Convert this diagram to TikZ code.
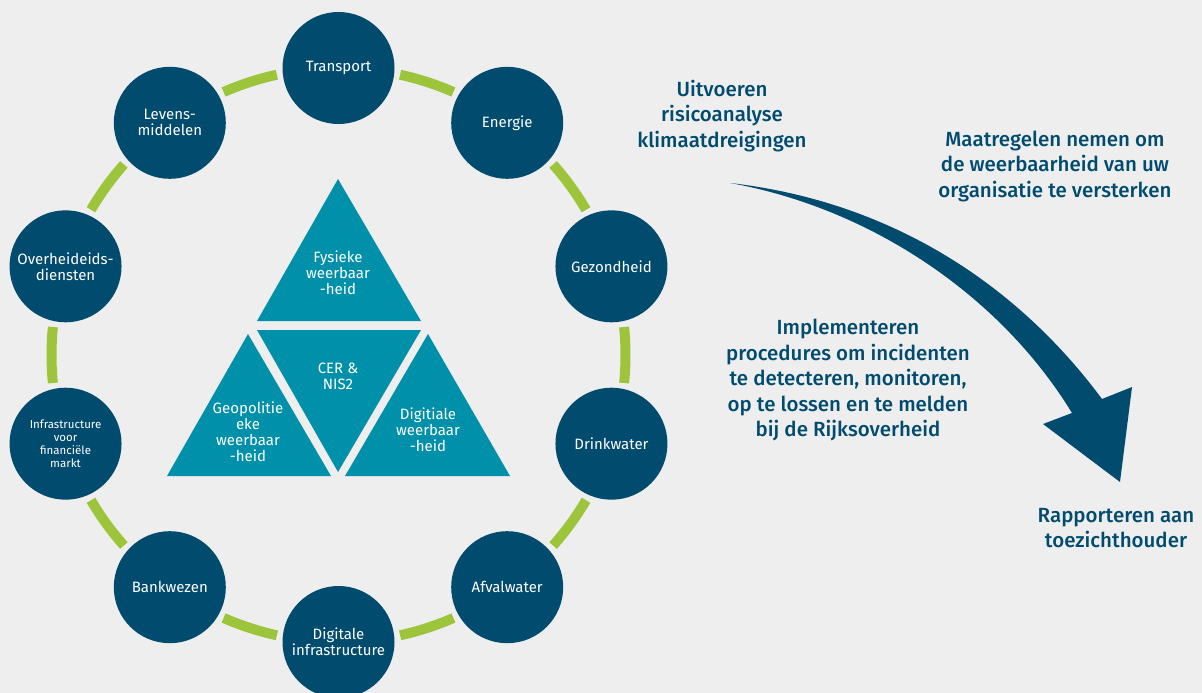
\documentclass[tikz,border=0pt]{standalone}
\usepackage{fontspec}
\setmainfont{Fira Sans}[BoldFont={Fira Sans Medium}]
\usepackage{tikz}

\definecolor{ringblue}{HTML}{004B6E}
\definecolor{wedgeteal}{HTML}{0090AA}
\definecolor{ringgreen}{HTML}{9DC53B}
\definecolor{paper}{HTML}{EEEEEE}

\tikzset{
  sector/.style={circle, fill=ringblue, minimum size=112pt, inner sep=0pt,
    text=white, align=center, font=\fontsize{15}{16}\selectfont},
  small/.style={font=\fontsize{11.5}{13}\selectfont},
  segment/.style={draw=ringgreen, line width=10pt},
  wedge/.style={fill=wedgeteal},
  wedgetext/.style={text=white, align=center, inner sep=0pt,
    font=\fontsize{15}{16}\selectfont},
  phase/.style={text=ringblue, align=center, inner sep=0pt,
    font=\bfseries\fontsize{20.5}{25.5}\selectfont}
}

\begin{document}
\begin{tikzpicture}[x=1pt,y=-1pt]
\fill[paper] (0,0) rectangle (1202,693);
\useasboundingbox (0,0) rectangle (1202,693);

\coordinate (ring) at (338.5,355);

% green pieces of the ring
\foreach \k in {0,...,9}
  \draw[segment] ([shift={(-77.6+36*\k:287)}]ring)
    arc[start angle=-77.6+36*\k, end angle=-66.4+36*\k, radius=287];

% the ten sectors
\foreach \k/\name/\txt/\extra in {
    0/transport/Transport/,
    1/energie/Energie/,
    2/gezondheid/Gezondheid/,
    3/drinkwater/Drinkwater/,
    4/afvalwater/Afvalwater/,
    5/digiinfra/{Digitale\\infrastructure}/,
    6/bankwezen/Bankwezen/,
    7/finmarkt/{Infrastructure\\voor\\financiële\\markt}/small,
    8/overheid/{Overheideids-\\diensten}/,
    9/levens/{Levens-\\middelen}/}
  \node[sector,\extra] (\name) at ([shift={(-90+36*\k:287)}]ring) {\txt};

% triangle in the middle
\fill[wedge] (338,179) -- (421,321) -- (257,321) -- cycle;
\fill[wedge] (257,330) -- (421,330) -- (338,472) -- cycle;
\fill[wedge] (248,334) -- (331,476) -- (167,476) -- cycle;
\fill[wedge] (428,334) -- (510,476) -- (345,476) -- cycle;

\node[wedgetext] (fysiek) at (338,273) {Fysieke\\weerbaar\\-heid};
\node[wedgetext] (cernis) at (338,376) {CER \&\\NIS2};
\node[wedgetext] (geopol) at (248,432) {Geopolitie\\eke\\weerbaar\\-heid};
\node[wedgetext] (digit) at (428,430) {Digitiale\\weerbaar\\-heid};

% steps on the right
\node[phase] (uitvoeren) at (722,116) {Uitvoeren\\risicoanalyse\\klimaatdreigingen};
\node[phase] (maatregel) at (1055,166) {Maatregelen nemen om\\de weerbaarheid van uw\\organisatie te versterken};
\node[phase] (implement) at (848,380) {Implementeren\\procedures om incidenten\\te detecteren, monitoren,\\op te lossen en te melden\\bij de Rijksoverheid};
\node[phase] (rapport) at (1116,528) {Rapporteren aan\\toezichthouder};

% the big arrow
\coordinate (tail) at (730,183);
\coordinate (tip) at (1120,482);
\fill[ringblue] (tail) .. controls (880,200) and (1010,275) .. (1102,399)
  -- (1132,387) -- (tip) -- (1043,424) -- (1072,413)
  .. controls (1000,295) and (870,208) .. (tail) -- cycle;
\end{tikzpicture}
\end{document}
